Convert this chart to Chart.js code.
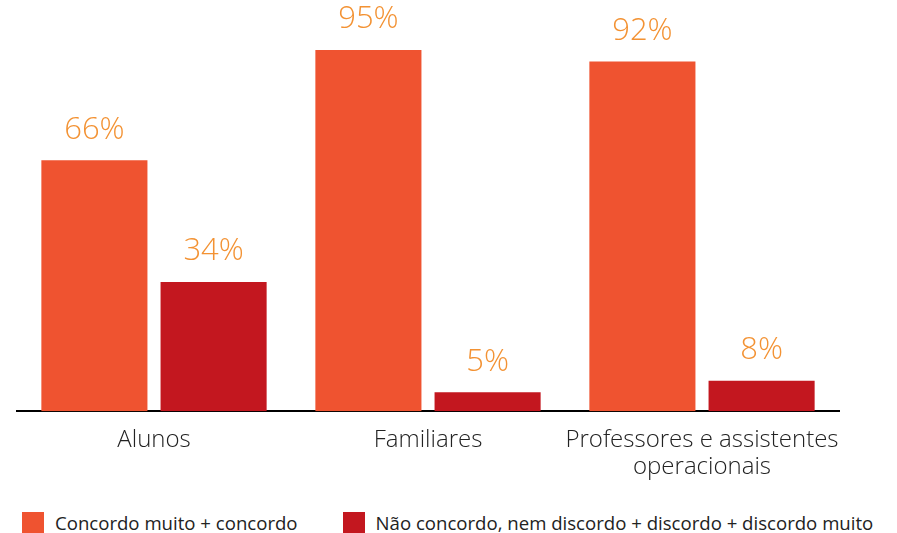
<!DOCTYPE html>
<html lang="pt">
<head>
    <meta charset="UTF-8">
    <title>Concordância por grupo</title>
    <script src="https://cdn.jsdelivr.net/npm/chart.js"></script>
    <style>
        body {
            margin: 0;
            background-color: #fff;
            font-family: "Open Sans", sans-serif;
        }
        .wrap {
            position: relative;
            width: 897px;
            height: 533px;
        }
        .chart-box {
            position: absolute;
            left: 0;
            top: 0;
            width: 897px;
            height: 498px;
        }
        .legend {
            position: absolute;
            top: 510px;
            left: 22px;
            display: flex;
            align-items: center;
            white-space: nowrap;
            font-size: 18.6px;
            color: #222;
        }
        .legend span.box {
            display: inline-block;
            flex-shrink: 0;
            width: 22px;
            height: 22px;
            margin-right: 11px;
        }
        .legend .item {
            display: flex;
            flex-shrink: 0;
            align-items: center;
            margin-right: 45px;
        }
    </style>
</head>
<body>
<div class="wrap">
    <div class="chart-box">
        <canvas id="barChart"></canvas>
    </div>
    <div class="legend" id="legend"></div>
</div>

<script>
    const categories = ['Alunos', 'Familiares', ['Professores e assistentes', 'operacionais']];
    const seriesNames = ['Concordo muito + concordo', 'Não concordo, nem discordo + discordo + discordo muito'];
    const agreeValues = [66, 95, 92];
    const disagreeValues = [34, 5, 8];
    const seriesColors = ['#EF5330', '#C3171F'];

    // draws the "66%" labels above each bar
    const valueLabels = {
        id: 'valueLabels',
        afterDatasetsDraw(chart) {
            const ctx = chart.ctx;
            ctx.save();
            ctx.font = '300 31px "Open Sans"';
            ctx.fillStyle = '#F39233';
            ctx.textAlign = 'center';
            ctx.textBaseline = 'bottom';
            chart.data.datasets.forEach((ds, i) => {
                chart.getDatasetMeta(i).data.forEach((bar, j) => {
                    ctx.fillText(ds.data[j] + '%', bar.x, bar.y - 15);
                });
            });
            ctx.restore();
        }
    };

    const chart = new Chart(document.getElementById('barChart'), {
        type: 'bar',
        data: {
            labels: categories,
            datasets: [{
                label: seriesNames[0],
                data: agreeValues,
                backgroundColor: seriesColors[0],
                categoryPercentage: 0.87,
                barPercentage: 0.89
            }, {
                label: seriesNames[1],
                data: disagreeValues,
                backgroundColor: seriesColors[1],
                categoryPercentage: 0.87,
                barPercentage: 0.89
            }]
        },
        options: {
            responsive: true,
            maintainAspectRatio: false,
            animation: false,
            layout: {
                padding: { top: 31, left: 17, right: 58, bottom: 10 }
            },
            plugins: {
                legend: { display: false },
                tooltip: { enabled: false }
            },
            scales: {
                x: {
                    grid: { display: false },
                    border: { color: '#000', width: 2 },
                    ticks: {
                        color: '#222',
                        padding: 8,
                        maxRotation: 0,
                        autoSkip: false,
                        font: { family: '"Open Sans"', weight: 300, size: 24, lineHeight: 1.1 }
                    }
                },
                y: {
                    display: false,
                    min: 0,
                    max: 100
                }
            }
        },
        plugins: [valueLabels]
    });

    // legend built from the same series arrays
    const legendEl = document.getElementById('legend');
    seriesNames.forEach((name, i) => {
        const item = document.createElement('div');
        item.className = 'item';
        item.innerHTML = '<span class="box" style="background:' + seriesColors[i] + '"></span>' + name;
        legendEl.appendChild(item);
    });
</script>
</body>
</html>
